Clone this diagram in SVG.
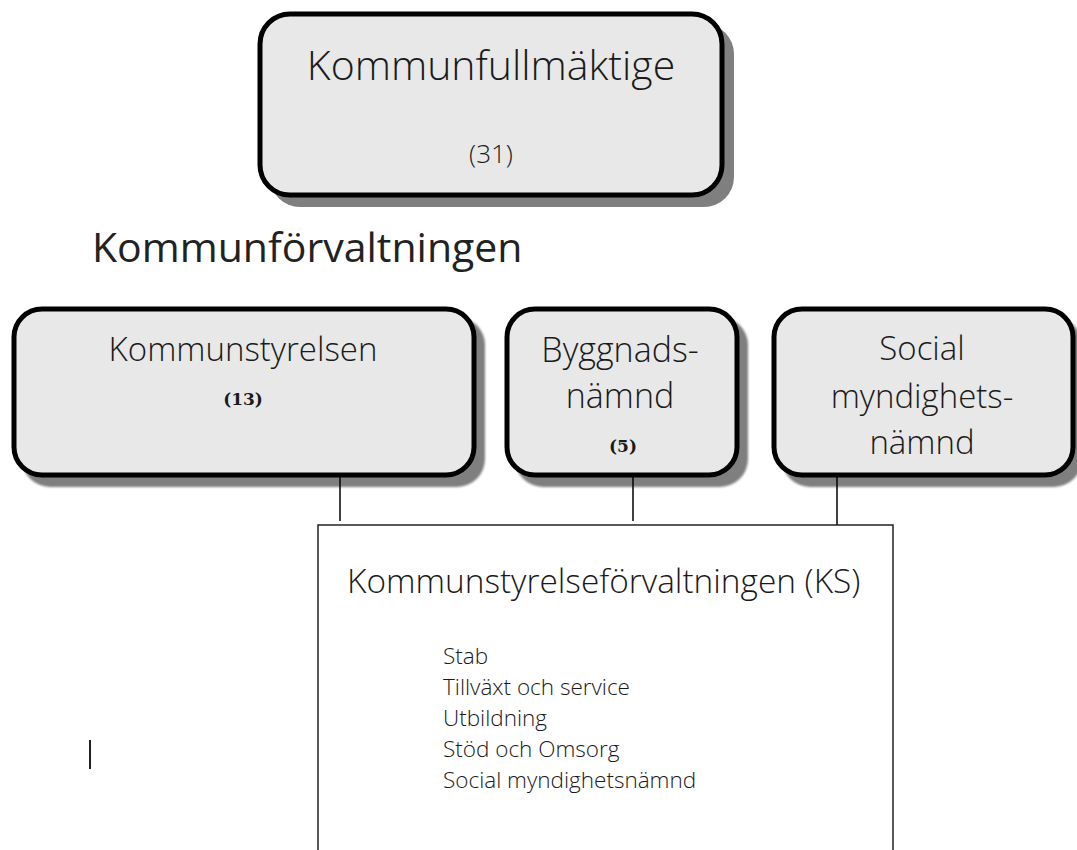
<svg xmlns="http://www.w3.org/2000/svg" width="1077" height="850" viewBox="0 0 1077 850">
<defs>
<style>
.box{fill:#e8e8e8;stroke:#000;stroke-width:5}
.shadow{fill:#7f7f7f}
.t{font-family:"Open Sans","Liberation Sans",sans-serif;font-weight:300;fill:#1a1a1a}
.num{font-family:"DejaVu Serif","Liberation Serif",serif;font-weight:bold;fill:#1a1a1a;font-size:17px}
.conn{stroke:#000;stroke-width:1.5;fill:none}
</style>
<filter id="soft" x="-10%" y="-10%" width="120%" height="120%"><feGaussianBlur stdDeviation="1.2"/></filter>
</defs>
<rect width="1077" height="850" fill="#fff"/>

<g id="kommunfullmaktige">
<rect class="shadow" x="270" y="24" width="464" height="183" rx="30"/>
<rect class="box" x="260" y="14" width="462" height="181" rx="30"/>
<text class="t" x="491" y="80" font-size="41" text-anchor="middle">Kommunfullmäktige</text>
<text class="t" x="491" y="163" font-size="26" text-anchor="middle">(31)</text>
</g>

<text id="heading" class="t" x="92" y="262" font-size="41" style="font-weight:400;fill:#222">Kommunförvaltningen</text>

<g id="kommunstyrelsen">
<rect class="shadow" x="22" y="317" width="463" height="170" rx="28" filter="url(#soft)"/>
<rect class="box" x="14" y="309" width="460" height="166" rx="28"/>
<text class="t" x="243" y="361" font-size="33" text-anchor="middle">Kommunstyrelsen</text>
<text class="num" x="243" y="405" text-anchor="middle">(13)</text>
</g>

<g id="byggnadsnamnd">
<rect class="shadow" x="515" y="317" width="233" height="170" rx="28" filter="url(#soft)"/>
<rect class="box" x="507" y="309" width="230" height="166" rx="28"/>
<text class="t" x="620" y="362" font-size="34" text-anchor="middle">Byggnads-</text>
<text class="t" x="620" y="408" font-size="34" text-anchor="middle">nämnd</text>
<text class="num" x="623" y="452" text-anchor="middle">(5)</text>
</g>

<g id="socialmyndighetsnamnd">
<rect class="shadow" x="782" y="317" width="300" height="170" rx="28" filter="url(#soft)"/>
<rect class="box" x="774" y="309" width="299" height="166" rx="28"/>
<text class="t" x="922" y="360" font-size="33" text-anchor="middle">Social</text>
<text class="t" x="922" y="408" font-size="33" text-anchor="middle">myndighets-</text>
<text class="t" x="922" y="454" font-size="33" text-anchor="middle">nämnd</text>
</g>

<g id="connectors">
<line class="conn" x1="340" y1="477" x2="340" y2="521"/>
<line class="conn" x1="633" y1="477" x2="633" y2="521"/>
<line class="conn" x1="837" y1="477" x2="837" y2="528"/>
</g>

<g id="ks">
<path d="M318 850 V525 H893 V850" fill="#fff" stroke="#222" stroke-width="1.5"/>
<text class="t" x="347" y="593" font-size="33.4">Kommunstyrelseförvaltningen (KS)</text>
<text class="t" x="443" y="664" font-size="22.5">Stab</text>
<text class="t" x="443" y="695" font-size="22.5">Tillväxt och service</text>
<text class="t" x="443" y="726" font-size="22.5">Utbildning</text>
<text class="t" x="443" y="757" font-size="22.5">Stöd och Omsorg</text>
<text class="t" x="443" y="788" font-size="22.5">Social myndighetsnämnd</text>
</g>

<line id="cursor" x1="90" y1="740" x2="90" y2="769" stroke="#222" stroke-width="2"/>
</svg>
